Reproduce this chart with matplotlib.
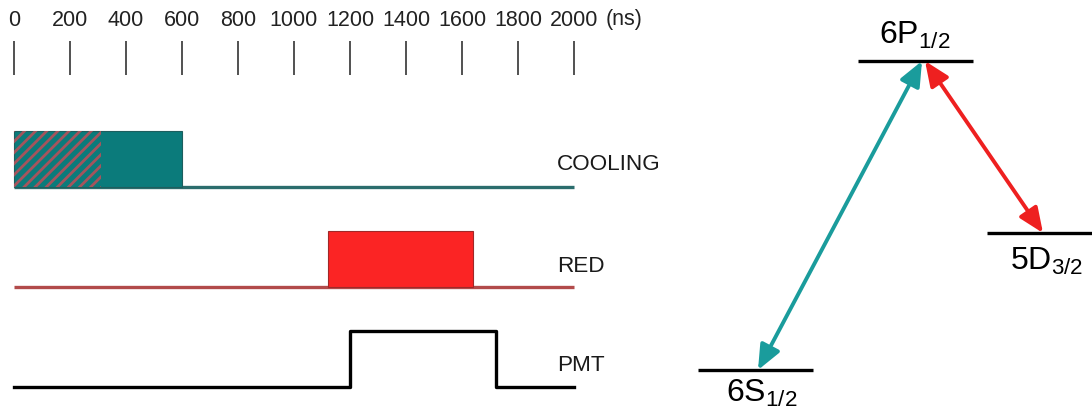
import matplotlib
matplotlib.use("Agg")
import matplotlib.pyplot as plt
from matplotlib.patches import Rectangle

plt.rcParams['font.family'] = ['Liberation Sans', 'DejaVu Sans']
plt.rcParams['mathtext.fontset'] = 'custom'
plt.rcParams['mathtext.rm'] = 'Liberation Sans'
plt.rcParams['mathtext.it'] = 'Liberation Sans'
plt.rcParams['hatch.linewidth'] = 2.0

narrow = ['Liberation Sans Narrow', 'Liberation Sans', 'DejaVu Sans']

# time axis (ns)
tick_ns = [0, 200, 400, 600, 800, 1000, 1200, 1400, 1600, 1800, 2000]
t_end = 2000

# pulse windows (ns)
cooling_hatched = (0, 310)
cooling_on = (0, 600)
red_on = (1120, 1640)
pmt_on = (1200, 1720)

channels = ['COOLING', 'RED', 'PMT']

# energy levels: name, subscript
levels = ['6P', '5D', '6S']
level_sub = ['1/2', '3/2', '1/2']

teal = '#0b7b7b'
teal_line = '#2b6d6d'
hatch_col = '#a5545c'
red = '#fb2424'
red_line = '#b24b4b'
teal_arrow = '#1a9c9c'
red_arrow = '#ee2020'

fig = plt.figure(figsize=(10.92, 4.19), dpi=100)

# ---- timing sequence ----
ax = fig.add_axes([0, 0, 680 / 1092, 1])
ax.set_xlim(-50, 2378.6)
ax.set_ylim(419, 0)
ax.axis('off')

base = {'COOLING': 187, 'RED': 287, 'PMT': 387}
pulse_h = 56

ax.vlines(tick_ns, 41, 75, color='#333333', lw=1.2)
for t in tick_ns:
    ax.text(t, 20, str(t), ha='center', va='center', fontsize=15.5, color='#222222', family=narrow)
ax.text(t_end + 114, 20, '(ns)', ha='left', va='center', fontsize=15.5, color='#222222', family=narrow)

# cooling
y0 = base['COOLING']
ax.plot([0, t_end], [y0, y0], color=teal_line, lw=2.4, solid_capstyle='butt', zorder=1)
ax.add_patch(Rectangle((cooling_on[0], y0 - pulse_h), cooling_on[1] - cooling_on[0], pulse_h,
                       facecolor=teal, edgecolor='#1d5e5e', lw=0.8, zorder=2))
ax.add_patch(Rectangle((cooling_hatched[0], y0 - pulse_h), cooling_hatched[1] - cooling_hatched[0], pulse_h,
                       facecolor='none', edgecolor=hatch_col, hatch='///', lw=0, zorder=3))

# red
y1 = base['RED']
ax.plot([0, t_end], [y1, y1], color=red_line, lw=2.4, solid_capstyle='butt', zorder=1)
ax.add_patch(Rectangle((red_on[0], y1 - pulse_h), red_on[1] - red_on[0], pulse_h,
                       facecolor=red, edgecolor='#a02828', lw=0.8, zorder=2))

# pmt gate
y2 = base['PMT']
ax.plot([0, pmt_on[0], pmt_on[0], pmt_on[1], pmt_on[1], t_end],
        [y2, y2, y2 - pulse_h, y2 - pulse_h, y2, y2],
        color='black', lw=2.4, solid_joinstyle='round', zorder=2)

label_y = {'COOLING': 164, 'RED': 266, 'PMT': 365}
for name in channels:
    ax.text(1939, label_y[name], name, ha='left', va='center', fontsize=16.2,
            color='#1a1a1a', family=narrow)

# ---- level scheme ----
ax2 = fig.add_axes([680 / 1092, 0, 412 / 1092, 1])
ax2.set_xlim(680, 1092)
ax2.set_ylim(419, 0)
ax2.axis('off')

level_x = {'6P': (858, 973), '5D': (987, 1092), '6S': (698, 813)}
level_y = {'6P': 61, '5D': 233, '6S': 370}
label_pos = {'6P': (915, 35), '5D': (1047, 261), '6S': (762, 393)}

for name, sub in zip(levels, level_sub):
    xa, xb = level_x[name]
    ax2.plot([xa, xb], [level_y[name]] * 2, color='black', lw=2.4, solid_capstyle='butt')
    lx, ly = label_pos[name]
    ax2.text(lx, ly, name + r'$_{\mathregular{' + sub + '}}$', ha='center', va='center',
             fontsize=23, color='black')

ax2.annotate('', xy=(922, level_y['6P']), xytext=(758, level_y['6S']),
             arrowprops=dict(arrowstyle='<|-|>,head_length=0.75,head_width=0.32',
                             color=teal_arrow, lw=2.8, shrinkA=0, shrinkB=0,
                             mutation_scale=20))
ax2.annotate('', xy=(925, level_y['6P']), xytext=(1043, level_y['5D']),
             arrowprops=dict(arrowstyle='<|-|>,head_length=0.75,head_width=0.32',
                             color=red_arrow, lw=2.8, shrinkA=0, shrinkB=0,
                             mutation_scale=20))

fig.savefig('out.png', dpi=100, facecolor='white')
